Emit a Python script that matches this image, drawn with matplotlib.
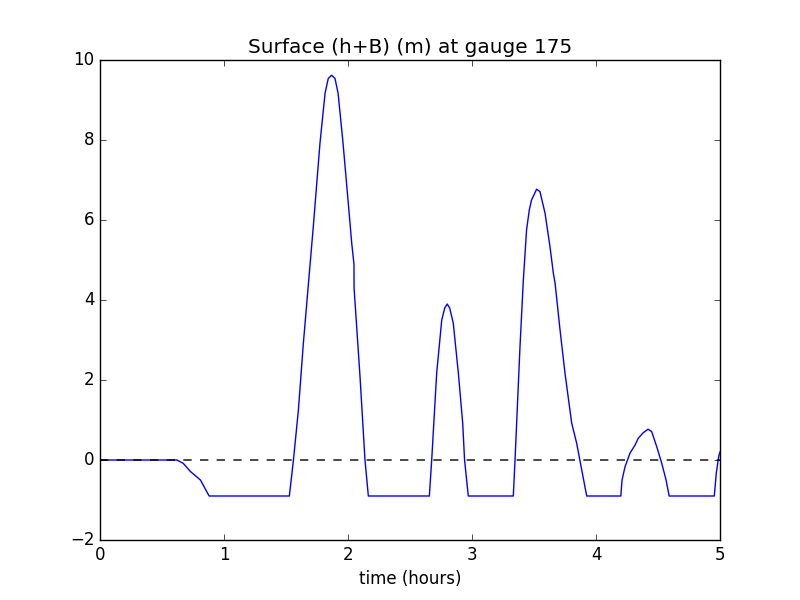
import matplotlib
matplotlib.use('Agg')
import matplotlib.pyplot as plt

plt.style.use('classic')

# gauge 175 surface elevation
t_hours = [0.0, 0.62, 0.67, 0.73, 0.81, 0.88, 1.527, 1.56, 1.60, 1.64, 1.72, 1.774,
           1.815, 1.841, 1.868, 1.895, 1.92, 1.96, 2.0, 2.03, 2.048, 2.049, 2.097,
           2.137, 2.164, 2.656, 2.675, 2.715, 2.756, 2.78, 2.80, 2.82, 2.849, 2.89,
           2.925, 2.94, 2.97, 3.333, 3.347, 3.387, 3.414, 3.44, 3.462, 3.48, 3.521,
           3.548, 3.589, 3.629, 3.656, 3.67, 3.71, 3.75, 3.804, 3.844, 3.885, 3.925,
           4.20, 4.21, 4.234, 4.274, 4.315, 4.34, 4.38, 4.42, 4.449, 4.49, 4.53,
           4.565, 4.59, 4.954, 4.97, 4.99, 5.0]
surface = [0.0, 0.0, -0.08, -0.29, -0.5, -0.9, -0.9, 0.0, 1.25, 2.92, 5.83, 7.92,
           9.17, 9.54, 9.62, 9.54, 9.17, 7.92, 6.5, 5.42, 4.9, 4.3, 2.08,
           0.0, -0.9, -0.9, 0.0, 2.17, 3.5, 3.8, 3.9, 3.8, 3.42, 2.17,
           0.92, 0.0, -0.9, -0.9, 0.0, 2.83, 4.5, 5.75, 6.25, 6.5, 6.77,
           6.71, 6.17, 5.33, 4.67, 4.42, 3.25, 2.17, 0.92, 0.42, -0.25, -0.9,
           -0.9, -0.5, -0.17, 0.17, 0.375, 0.54, 0.68, 0.77, 0.71, 0.33, -0.08,
           -0.5, -0.9, -0.9, -0.33, 0.1, 0.2]

gaugeno = 175

fig = plt.figure(figsize=(8, 6), dpi=100)
ax = fig.add_subplot(111)
ax.plot(t_hours, surface, 'b-')
ax.plot([0, 5], [0, 0], 'k--', snap=False)
ax.set_xlim(0, 5)
ax.set_ylim(-2, 10)
ax.set_title('Surface (h+B) (m) at gauge %s' % gaugeno)
ax.set_xlabel('time (hours)')
fig.savefig('out.png', dpi=100)
